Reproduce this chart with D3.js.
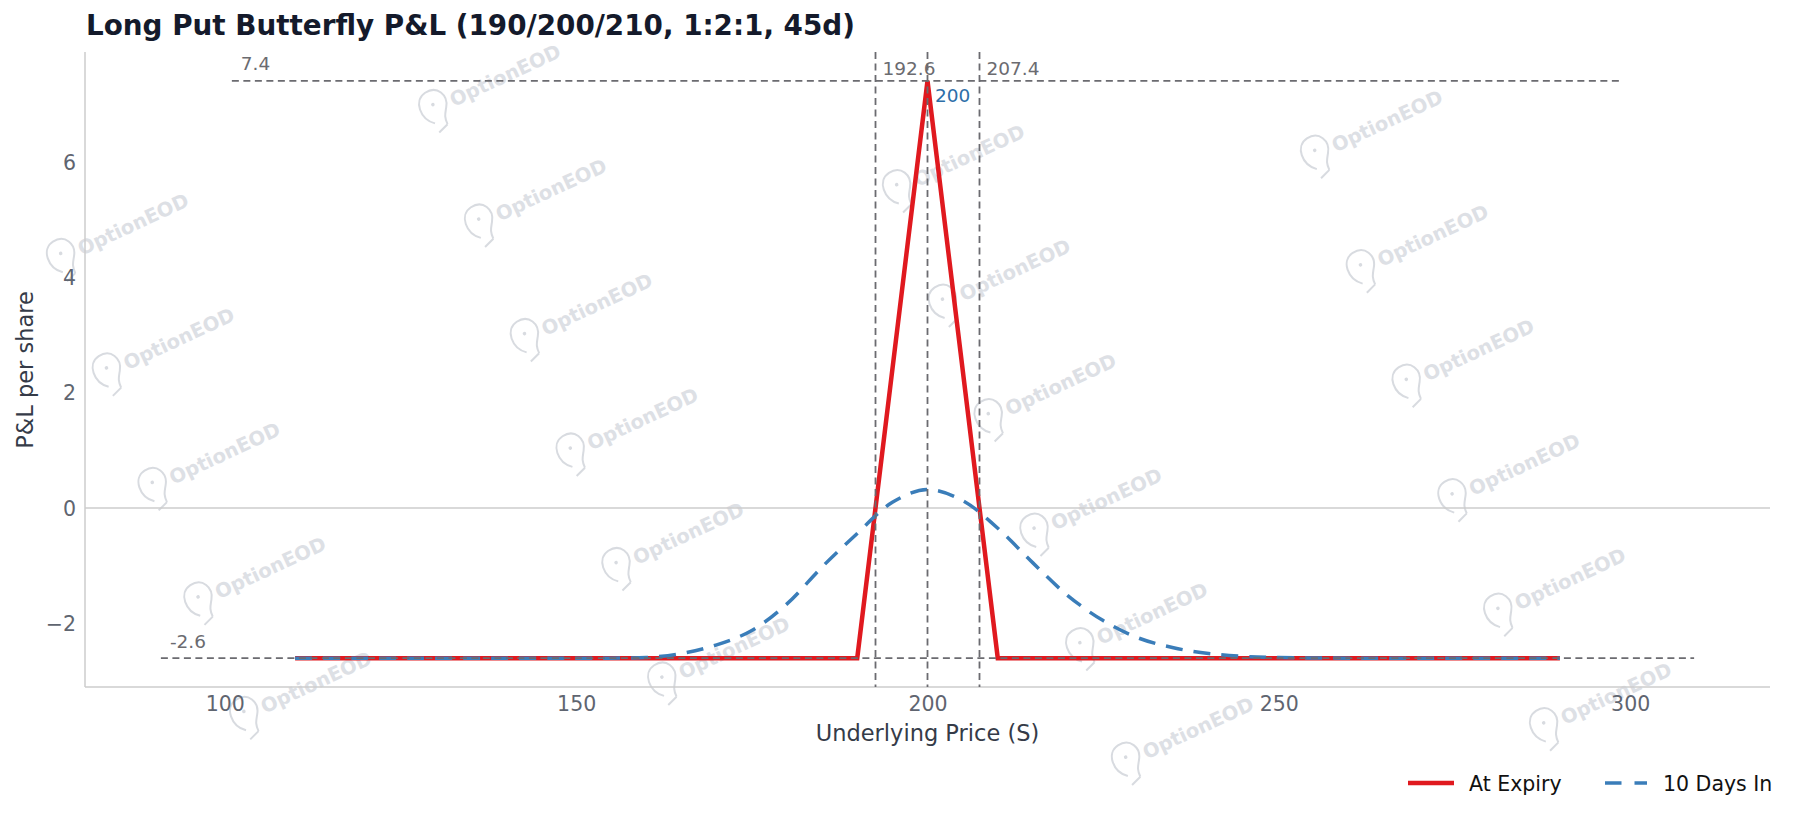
<!DOCTYPE html>
<html>
<head>
<meta charset="utf-8">
<script src="https://cdn.jsdelivr.net/npm/d3@7/dist/d3.min.js"></script>
<style>
  html, body { margin: 0; padding: 0; background: #fff; }
  svg { display: block; font-family: "DejaVu Sans", sans-serif; }
</style>
</head>
<body>
<svg id="chart" width="1796" height="819"></svg>
<script>
// ---- Data ----
const title = "Long Put Butterfly P&L (190/200/210, 1:2:1, 45d)";
const xLabel = "Underlying Price (S)";
const yLabel = "P&L per share";
const xTicks = [100, 150, 200, 250, 300];
const yTicks = [-2, 0, 2, 4, 6];

const expiryS = [110, 190, 200, 210, 290];
const expiryPL = [-2.6, -2.6, 7.4, -2.6, -2.6];

const daysInS = [110, 120, 130, 140, 150, 155, 160, 165, 170, 175, 180, 185, 190, 195, 200, 205, 210, 215, 220, 225, 230, 235, 240, 245, 250, 260, 270, 280, 290];
const daysInPL = [-2.6, -2.6, -2.6, -2.6, -2.6, -2.6, -2.59, -2.52, -2.37, -2.12, -1.66, -1.02, -0.44, 0.10, 0.32, 0.13, -0.35, -0.95, -1.52, -1.95, -2.25, -2.42, -2.52, -2.57, -2.59, -2.6, -2.6, -2.6, -2.6];

const maxProfit = 7.4, maxLoss = -2.6;
const maxProfitSpan = [101, 299];
const maxLossSpan = [90.9, 309.1];
const breakevens = [192.6, 207.4];
const centerStrike = 200;
const seriesNames = ["At Expiry", "10 Days In"];
const watermarkText = "OptionEOD";

// ---- Layout ----
const W = 1796, H = 819;
const plot = { left: 85, right: 1770, top: 52, bottom: 687 };
const colors = { red: "#e0191f", blue: "#3a7db9", ref: "#6b6b70", spine: "#cccccc",
  tick: "#5f6570", label: "#353b48", title: "#141a2b" };

const svg = d3.select("#chart");
const x = d3.scaleLinear().domain([80.1, 319.9]).range([plot.left, plot.right]);
const y = d3.scaleLinear().domain([-3.1, 7.9]).range([plot.bottom, plot.top]);

// ---- Watermarks (only those fully inside the canvas) ----
const wm = svg.append("g").attr("class", "watermarks");
const base = [80, 113], va = [45.8, 114.5], vb = [418, -34.4];
const ang = -25 * Math.PI / 180;
const localBox = [[-86, -20], [70, -20], [70, 26], [-86, 26]];
for (let i = -3; i < 8; i++) {
  for (let j = -2; j < 9; j++) {
    const cx = base[0] + i * vb[0] + j * va[0];
    const cy = base[1] + i * vb[1] + j * va[1];
    const inside = localBox.every(([lx, ly]) => {
      const px = cx + lx * Math.cos(ang) - ly * Math.sin(ang);
      const py = cy + lx * Math.sin(ang) + ly * Math.cos(ang);
      return px >= 1 && px <= W - 1 && py >= 1 && py <= H - 1;
    });
    if (!inside) continue;
    const g = wm.append("g").attr("transform", `translate(${cx},${cy}) rotate(-25)`);
    g.append("path")
      .attr("d", "M-76,14 C-88,4 -86,-16 -72,-18 C-58,-20 -52,-6 -59,4 C-63,10 -65,12 -65,20 M-76,24 L-65,20")
      .attr("fill", "none").attr("stroke", "#d8dbe0").attr("stroke-width", 2);
    g.append("circle").attr("cx", -70).attr("cy", -4).attr("r", 1.8).attr("fill", "#d8dbe0");
    g.append("text").attr("x", -52).attr("y", 7)
      .attr("font-size", 19.5).attr("font-weight", "bold").attr("fill", "#dde0e5")
      .text(watermarkText);
  }
}

// ---- Spines ----
svg.append("line").attr("x1", plot.left).attr("x2", plot.left)
  .attr("y1", plot.top).attr("y2", plot.bottom)
  .attr("stroke", colors.spine).attr("stroke-width", 1.5);
svg.append("line").attr("x1", plot.left).attr("x2", plot.right)
  .attr("y1", plot.bottom).attr("y2", plot.bottom)
  .attr("stroke", colors.spine).attr("stroke-width", 1.5);

// zero line
svg.append("line").attr("x1", plot.left).attr("x2", plot.right)
  .attr("y1", y(0)).attr("y2", y(0))
  .attr("stroke", colors.spine).attr("stroke-width", 1.5);

// ---- Axes (labels only) ----
const xAxis = d3.axisBottom(x).tickValues(xTicks).tickSize(0).tickPadding(0).tickFormat(d3.format("d"));
const gx = svg.append("g").attr("transform", `translate(0,${plot.bottom})`).call(xAxis);
gx.select(".domain").remove();
gx.selectAll("text").attr("font-size", 20.5).attr("fill", colors.tick)
  .attr("font-family", "DejaVu Sans").attr("dy", null).attr("y", 24);

const yAxis = d3.axisLeft(y).tickValues(yTicks).tickSize(0).tickPadding(9)
  .tickFormat(d => d < 0 ? "\u2212" + Math.abs(d) : String(d));
const gy = svg.append("g").attr("transform", `translate(${plot.left},0)`).call(yAxis);
gy.select(".domain").remove();
gy.selectAll("text").attr("font-size", 20.5).attr("fill", colors.tick)
  .attr("font-family", "DejaVu Sans").attr("dy", "0.36em");

// axis titles
svg.append("text").attr("x", (plot.left + plot.right) / 2).attr("y", 741)
  .attr("text-anchor", "middle").attr("font-size", 22.5).attr("fill", colors.label)
  .text(xLabel);
svg.append("text").attr("transform", `translate(33,${370}) rotate(-90)`)
  .attr("text-anchor", "middle").attr("font-size", 22.5).attr("fill", colors.label)
  .text(yLabel);

// title
svg.append("text").attr("x", 86).attr("y", 35).attr("font-size", 27.8)
  .attr("font-weight", "bold").attr("fill", colors.title).text(title);

// ---- Series ----
const line = d3.line().x(d => x(d[0])).y(d => y(d[1]));
svg.append("path").datum(expiryS.map((s, i) => [s, expiryPL[i]]))
  .attr("d", line).attr("fill", "none").attr("stroke", colors.red)
  .attr("stroke-width", 4.5).attr("stroke-linejoin", "miter");

const smooth = d3.line().x(d => x(d[0])).y(d => y(d[1])).curve(d3.curveCatmullRom.alpha(0.5));
svg.append("path").datum(daysInS.map((s, i) => [s, daysInPL[i]]))
  .attr("d", smooth).attr("fill", "none").attr("stroke", colors.blue)
  .attr("stroke-width", 3.5).attr("stroke-dasharray", "17,11");

// ---- Reference lines ----
const refDash = "7,4.5";
svg.append("line").attr("x1", x(maxProfitSpan[0])).attr("x2", x(maxProfitSpan[1]))
  .attr("y1", y(maxProfit)).attr("y2", y(maxProfit))
  .attr("stroke", colors.ref).attr("stroke-width", 1.8).attr("stroke-dasharray", refDash);
svg.append("line").attr("x1", x(maxLossSpan[0])).attr("x2", x(maxLossSpan[1]))
  .attr("y1", y(maxLoss)).attr("y2", y(maxLoss))
  .attr("stroke", colors.ref).attr("stroke-width", 1.8).attr("stroke-dasharray", refDash);
[breakevens[0], centerStrike, breakevens[1]].forEach(v => {
  svg.append("line").attr("x1", x(v)).attr("x2", x(v))
    .attr("y1", plot.top).attr("y2", plot.bottom)
    .attr("stroke", colors.ref).attr("stroke-width", 1.8).attr("stroke-dasharray", refDash);
});

// annotations
svg.append("text").attr("x", x(maxProfitSpan[0]) + 9).attr("y", y(maxProfit) - 11)
  .attr("font-size", 18.5).attr("fill", colors.ref).text(String(maxProfit));
svg.append("text").attr("x", x(maxLossSpan[0]) + 9).attr("y", y(maxLoss) - 10)
  .attr("font-size", 18.5).attr("fill", colors.ref).text(String(maxLoss));
breakevens.forEach(v => {
  svg.append("text").attr("x", x(v) + 7).attr("y", y(maxProfit) - 6)
    .attr("font-size", 18.5).attr("fill", colors.ref).text(String(v));
});
svg.append("text").attr("x", x(centerStrike) + 7.5).attr("y", y(maxProfit) + 21)
  .attr("font-size", 18.5).attr("fill", "#2d6ea8").text(String(centerStrike));

// ---- Legend ----
const lg = svg.append("g");
lg.append("line").attr("x1", 1408).attr("x2", 1454).attr("y1", 783).attr("y2", 783)
  .attr("stroke", colors.red).attr("stroke-width", 4.5);
lg.append("text").attr("x", 1469).attr("y", 791).attr("font-size", 20.5).attr("fill", "#111")
  .text(seriesNames[0]);
lg.append("line").attr("x1", 1605).attr("x2", 1647).attr("y1", 783).attr("y2", 783)
  .attr("stroke", colors.blue).attr("stroke-width", 3.5).attr("stroke-dasharray", "16.5,13");
lg.append("text").attr("x", 1663).attr("y", 791).attr("font-size", 20.5).attr("fill", "#111")
  .text(seriesNames[1]);
</script>
</body>
</html>
